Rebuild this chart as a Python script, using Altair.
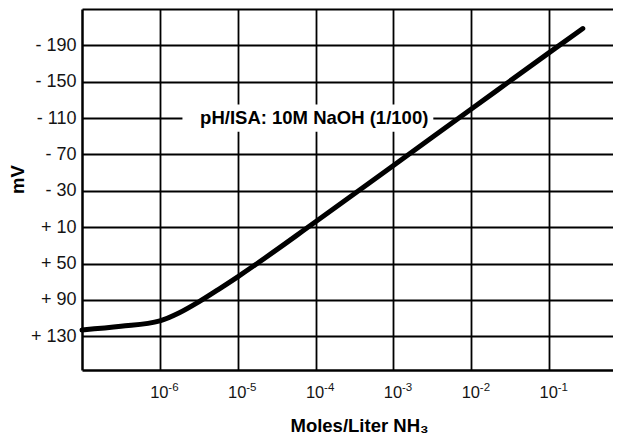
import altair as alt
import pandas as pd

# Curve: concentration (mol/L NH3) vs electrode potential (mV)
conc = [1.0e-7, 3.16e-7, 1.0e-6, 1.78e-6, 3.16e-6, 5.62e-6,
        1.0e-5, 1.0e-4, 1.0e-3, 1.0e-2, 1.0e-1, 2.7e-1]
mv = [123, 119, 113, 104, 92, 78.5, 64.5, 4, -58, -120, -182, -208.5]

x_tick_values = [1e-6, 1e-5, 1e-4, 1e-3, 1e-2, 1e-1]
x_tick_base = ["10", "10", "10", "10", "10", "10"]
x_tick_exponents = ["-6", "-5", "-4", "-3", "-2", "-1"]
y_tick_values = [-230, -190, -150, -110, -70, -30, 10, 50, 90, 130]

annot_text = ["pH/ISA: 10M NaOH (1/100)"]
annot_x = [9.6e-5]
annot_mv = [-103]
box_x = [1.95e-6]
box_x2 = [3.25e-3]
box_mv = [-125]
box_mv2 = [-95]

FONT = "Liberation Sans"
INK = "#141414"

curve_df = pd.DataFrame({"conc": conc, "mv": mv})
annot_df = pd.DataFrame({"conc": annot_x, "mv": annot_mv, "text": annot_text})
box_df = pd.DataFrame({"x": box_x, "x2": box_x2, "y": box_mv, "y2": box_mv2})
exp_df = pd.DataFrame({"conc": x_tick_values, "exp": x_tick_exponents})

x_scale = alt.Scale(type="log", domain=[1e-7, 0.66], nice=False)
y_scale = alt.Scale(domain=[-230, 167], reverse=True, nice=False, zero=False)

x_label_expr = "'" + x_tick_base[0] + "'"
y_label_expr = "datum.value < -200 ? '' : (datum.value < 0 ? '- ' : '+ ') + abs(datum.value)"

x_axis = alt.Axis(
    values=x_tick_values, labelExpr=x_label_expr, title="Moles/Liter NH₃",
    grid=True, gridColor="black", gridWidth=1.8, gridOpacity=1,
    ticks=False, domainColor="black", domainWidth=2.5,
    labelFont=FONT, labelFontSize=16.5, labelColor=INK, labelBaseline="alphabetic",
    labelPadding=27, labelOffset=-1,
    titleFont=FONT, titleFontSize=18.5, titleFontWeight="bold", titleColor="black",
    titleBaseline="alphabetic", titleX=277, titleY=61, titleAlign="center",
)
y_axis = alt.Axis(
    values=y_tick_values, labelExpr=y_label_expr, title="mV",
    grid=True, gridColor="black", gridWidth=1.8, gridOpacity=1,
    ticks=False, domainColor="black", domainWidth=2.5,
    labelFont=FONT, labelFontSize=18, labelColor=INK, labelPadding=6,
    labelBaseline="middle",
    titleFont=FONT, titleFontSize=18.5, titleFontWeight="bold", titleColor="black",
    titleAngle=-90, titleBaseline="alphabetic", titleX=-59, titleY=170, titleAlign="center",
)

box = alt.Chart(box_df).mark_rect(color="white").encode(
    x=alt.X("x:Q", scale=x_scale, axis=x_axis),
    x2="x2:Q",
    y=alt.Y("y:Q", scale=y_scale, axis=y_axis),
    y2="y2:Q",
)

line = alt.Chart(curve_df).mark_line(
    color="black", strokeWidth=5, interpolate="monotone", strokeCap="round"
).encode(
    x=alt.X("conc:Q", scale=x_scale),
    y=alt.Y("mv:Q", scale=y_scale),
)

text = alt.Chart(annot_df).mark_text(
    font=FONT, fontSize=18.5, fontWeight="bold", color="black",
    align="center", baseline="alphabetic",
).encode(
    x=alt.X("conc:Q", scale=x_scale),
    y=alt.Y("mv:Q", scale=y_scale),
    text="text:N",
)

exps = alt.Chart(exp_df).mark_text(
    font=FONT, fontSize=11.5, color=INK, align="left", baseline="alphabetic", dx=8.5,
).encode(
    x=alt.X("conc:Q", scale=x_scale),
    y=alt.value(382),
    text="exp:N",
)

chart = alt.layer(box, line, text, exps).properties(
    width=531, height=361,
    autosize=alt.AutoSizeParams(type="none"),
    padding={"left": 74, "top": 1, "right": 0, "bottom": 67},
    background="white",
).configure_view(strokeWidth=0)

chart.save("out.html", embed_options={"renderer": "svg", "actions": False})
